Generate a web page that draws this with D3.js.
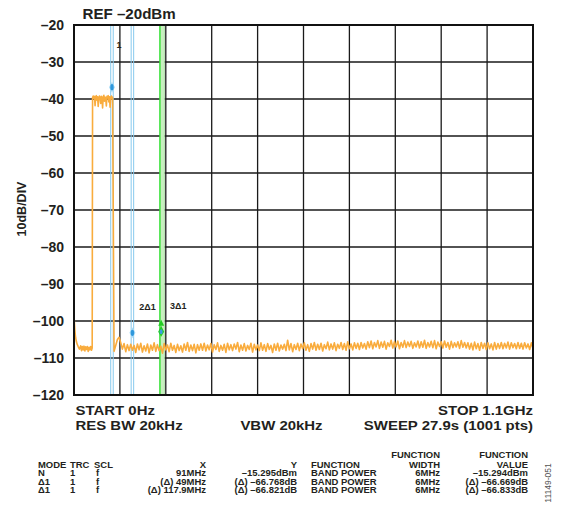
<!DOCTYPE html>
<html>
<head>
<meta charset="utf-8">
<script src="https://cdn.jsdelivr.net/npm/d3@7"></script>
<style>
  body { margin: 0; background: #fff; }
  text { font-family: "Liberation Sans", Arial, sans-serif; font-weight: bold; fill: #231f20; }
</style>
</head>
<body>
<div class="chart"></div>
<script>
// y axis (dBm)
const yTicks = [-20, -30, -40, -50, -60, -70, -80, -90, -100, -110, -120];
// x axis divisions (MHz), 0 to 1.1GHz
const xDivs = [0, 110, 220, 330, 440, 550, 660, 770, 880, 990, 1100];

// trace: low end before the carrier
const startFreq = [0, 1, 2, 3, 4, 6, 8, 10, 13, 16, 18, 20, 22, 24, 26, 28, 30, 32, 34, 36, 38, 40, 42, 43.6];
const startLevel = [-98.5, -100.5, -102.3, -103.6, -104.6, -105.7, -106.4, -106.9, -107.6, -106.7, -108.0, -106.9, -107.8, -106.8, -108.1, -107.0, -107.7, -106.9, -108.2, -107.1, -107.8, -106.9, -107.9, -107.3];

// trace: carrier plateau
const plateauFreq = [44.5, 46, 47.5, 49, 50.5, 52, 53.5, 55, 56.5, 58, 59.5, 61, 62.5, 64, 65.5, 67, 68.5, 70, 71.5, 73, 74.5, 76, 77.5, 79, 80.5, 82, 83.5, 85, 86.5, 88, 89.5, 91, 92.5];
const plateauLevel = [-39.6, -39.2, -39.8, -39.3, -41.8, -39.5, -39.1, -40.3, -39.4, -42.0, -39.6, -39.2, -39.8, -41.2, -39.3, -39.7, -42.4, -39.4, -39.0, -40.6, -39.5, -39.8, -41.9, -39.3, -39.6, -39.1, -40.8, -39.4, -42.2, -39.7, -39.2, -39.9, -39.5];

// trace: noise floor, one point every 4MHz from 96MHz
const noiseStartMHz = 96, noiseStepMHz = 4;
const noiseLevel = [
  -108.2, -106.6, -105.0, -104.4, -105.9, -107.6, -106.1, -108.3, -106.4, -108.0,
  -106.3, -107.9, -106.6, -108.5, -106.2, -107.8, -106.0, -108.4, -106.7, -108.1,
  -106.2, -108.6, -106.5, -107.9, -105.9, -108.2, -106.4, -108.0, -106.8, -108.7,
  -106.1, -107.8, -106.5, -108.3, -106.0, -107.9, -106.6, -108.5, -106.3, -108.0,
  -106.7, -108.4, -106.2, -107.9, -105.8, -108.2, -106.5, -108.0, -106.3, -108.6,
  -106.4, -107.9,
  -106.2, -107.9, -106.0, -108.1, -106.5, -107.8, -106.1, -108.4, -106.4, -107.7,
  -105.9, -108.2, -106.6, -107.9, -106.3, -108.5, -106.0, -107.8, -106.4, -108.0,
  -106.2, -107.6, -105.8, -108.3, -106.5, -107.9, -106.1, -108.1, -106.6, -107.7,
  -106.0, -108.4, -106.3, -107.8, -106.5, -108.0, -105.9, -107.9, -106.4, -108.2,
  -106.1, -107.7, -106.6, -108.5, -106.2, -107.9, -106.0, -108.1, -106.5, -107.6,
  -106.3, -108.0, -105.2, -107.8, -106.1, -108.3, -106.4, -107.7, -106.0, -108.0,
  -106.2, -107.5, -105.9, -107.9, -106.4, -108.2, -106.1, -107.6, -105.8, -107.9,
  -106.3, -107.7, -106.0, -108.1, -106.4, -107.5, -105.7, -107.8, -106.2, -107.6,
  -105.9, -108.0, -106.3, -107.4, -105.8, -107.7, -106.1, -107.9, -105.6, -107.5,
  -106.2, -107.8, -105.9, -107.4, -106.0, -107.7, -105.8, -107.3, -106.1, -107.6,
  -105.6, -107.2, -105.4, -107.5, -105.8, -107.0, -105.3, -107.4, -105.7, -107.1,
  -105.5, -107.6, -105.9, -106.9, -105.2, -107.3, -105.6, -107.0, -105.4, -107.5,
  -105.8, -107.1, -105.3, -107.2, -105.7, -106.9, -105.5, -107.4, -105.9, -107.0,
  -105.4, -107.3, -105.6, -107.1, -105.2, -107.4, -105.8, -107.0, -105.5, -107.2,
  -105.3, -107.5, -105.7, -106.9, -105.6, -107.3, -105.4, -107.1, -105.8, -107.6,
  -105.5, -107.2, -105.9, -107.0, -105.6, -107.4, -105.3, -107.1, -105.8, -107.3,
  -105.9, -107.6, -106.0, -107.8, -105.7, -107.5, -106.1, -107.9, -105.8, -107.4,
  -106.0, -107.7, -105.9, -107.5, -106.2, -107.8, -105.8, -107.6, -106.1, -107.4,
  -105.8, -107.5, -106.0, -107.3, -105.7, -107.6, -105.9, -107.2, -106.1, -107.5,
  -105.8, -107.4, -106.0, -107.6, -105.9, -107.3, -106.2, -107.7, -105.9, -107.5
];

// markers
const markerLabels = ["1", "2\u03941", "3\u03941"];
const markerFreq = [91, 140, 208.9];
const markerLevel = [-36.8, -103.2, -102.9];
const bandWidthMHz = 6;

// texts
const refText = "REF \u201320dBm";
const yTitle = "10dB/DIV";
const footLeft = ["START 0Hz", "RES BW 20kHz"];
const footMid = "VBW 20kHz";
const footRight = ["STOP 1.1GHz", "SWEEP 27.9s (1001 pts)"];

// marker table
const tableHead1 = ["", "", "", "", "", "", "FUNCTION", "FUNCTION"];
const tableHead2 = ["MODE", "TRC", "SCL", "X", "Y", "FUNCTION", "WIDTH", "VALUE"];
const tableRows = [
  ["N", "1", "f", "91MHz", "\u201315.295dBm", "BAND POWER", "6MHz", "\u201315.294dBm"],
  ["\u03941", "1", "f", "(\u0394) 49MHz", "(\u0394) \u201366.768dB", "BAND POWER", "6MHz", "(\u0394) \u201366.669dB"],
  ["\u03941", "1", "f", "(\u0394) 117.9MHz", "(\u0394) \u201366.821dB", "BAND POWER", "6MHz", "(\u0394) \u201366.833dB"]
];
const figId = "11149-051";

// ---- layout
const W = 566, H = 508;
const plot = { left: 74, top: 25, right: 533, bottom: 395 };

const svg = d3.select("div.chart").append("svg")
  .attr("width", W).attr("height", H);

const xScale = d3.scaleLinear().domain([0, 1100]).range([plot.left, plot.right]);
const yScale = d3.scaleLinear().domain([-120, -20]).range([plot.bottom, plot.top]);

// text slightly widened like the original artwork
function addText(parent, x, y, str, size, anchor, sx) {
  return parent.append("text")
    .attr("transform", `translate(${x},${y}) scale(${sx || 1},1)`)
    .attr("text-anchor", anchor || "start")
    .style("font-size", size + "px")
    .text(str);
}

// grid
svg.append("g").selectAll("line")
  .data(xDivs.slice(1, -1))
  .enter().append("line")
  .attr("x1", d => xScale(d)).attr("x2", d => xScale(d))
  .attr("y1", plot.top).attr("y2", plot.bottom)
  .attr("stroke", "#1a1a1a").attr("stroke-width", 1.3);

svg.append("g").selectAll("line")
  .data(yTicks.slice(1, -1))
  .enter().append("line")
  .attr("x1", plot.left).attr("x2", plot.right)
  .attr("y1", d => yScale(d)).attr("y2", d => yScale(d))
  .attr("stroke", "#1a1a1a").attr("stroke-width", 1.3);

// band power lines for each marker
const bands = svg.append("g");
markerFreq.forEach((f, i) => {
  const x0 = xScale(f - bandWidthMHz / 2), x1 = xScale(f + bandWidthMHz / 2);
  if (i === 2) {
    bands.append("rect").attr("x", x0).attr("y", plot.top)
      .attr("width", x1 - x0 + 2).attr("height", plot.bottom - plot.top)
      .attr("fill", "#c9efc0");
    bands.append("line").attr("x1", x0).attr("x2", x0)
      .attr("y1", plot.top).attr("y2", plot.bottom)
      .attr("stroke", "#2ee02e").attr("stroke-width", 1.4);
    bands.append("line").attr("x1", x1 + 2).attr("x2", x1 + 2)
      .attr("y1", plot.top).attr("y2", plot.bottom)
      .attr("stroke", "#a8d8a2").attr("stroke-width", 0.8);
  } else {
    [x0, x1].forEach(x => {
      bands.append("line").attr("x1", x).attr("x2", x)
        .attr("y1", plot.top).attr("y2", plot.bottom)
        .attr("stroke", "#86c9ee").attr("stroke-width", 1);
    });
  }
});

// trace
const trace = [];
startFreq.forEach((f, i) => trace.push([f, startLevel[i]]));
plateauFreq.forEach((f, i) => trace.push([f, plateauLevel[i]]));
noiseLevel.forEach((v, i) => trace.push([noiseStartMHz + noiseStepMHz * i, v]));

svg.append("clipPath").attr("id", "clip")
  .append("rect").attr("x", plot.left).attr("y", plot.top)
  .attr("width", plot.right - plot.left).attr("height", plot.bottom - plot.top);

svg.append("path")
  .datum(trace)
  .attr("clip-path", "url(#clip)")
  .attr("fill", "none")
  .attr("stroke", "#f9ac3d")
  .attr("stroke-width", 1.6)
  .attr("stroke-linejoin", "round")
  .attr("d", d3.line().x(d => xScale(d[0])).y(d => yScale(d[1])));

// frame
svg.append("rect")
  .attr("x", plot.left).attr("y", plot.top)
  .attr("width", plot.right - plot.left).attr("height", plot.bottom - plot.top)
  .attr("fill", "none").attr("stroke", "#111").attr("stroke-width", 2);

// markers
const labelOffset = [[7, -39], [15, -23], [17, -23]];
markerFreq.forEach((f, i) => {
  const x = xScale(f), y = yScale(markerLevel[i]);
  if (i === 2) {
    svg.append("path")
      .attr("d", `M${x},${y - 12} L${x + 3},${y - 6} L${x - 3},${y - 6} Z`)
      .attr("fill", "#22cc22");
    svg.append("path")
      .attr("d", `M${x},${y - 6} L${x + 3},${y} L${x},${y + 5} L${x - 3},${y} Z`)
      .attr("fill", "#22cc22");
    svg.append("ellipse").attr("cx", x).attr("cy", y).attr("rx", 1.5).attr("ry", 2.5)
      .attr("fill", "#3a9ee0");
  } else {
    svg.append("path")
      .attr("d", `M${x},${y - 5.5} L${x + 3},${y} L${x},${y + 5.5} L${x - 3},${y} Z`)
      .attr("fill", "#a9dcf7");
    svg.append("ellipse").attr("cx", x).attr("cy", y).attr("rx", 1.7).attr("ry", 3.2)
      .attr("fill", "#2f98dc");
  }
  addText(svg, x + labelOffset[i][0], y + labelOffset[i][1], markerLabels[i], 9, "middle");
});

// y tick labels
yTicks.forEach(d => {
  addText(svg, 64, yScale(d) + 5, "\u2013" + Math.abs(d), 14, "end");
});

// titles
addText(svg, 82.5, 19, refText, 14, "start", 1.08);
svg.append("text")
  .attr("transform", "translate(26,209) rotate(-90)")
  .attr("text-anchor", "middle")
  .style("font-size", "12.5px")
  .text(yTitle);

// footer
footLeft.forEach((t, i) => addText(svg, 75.5, 415 + i * 15, t, 13, "start", 1.15));
addText(svg, 281.5, 430, footMid, 13, "middle", 1.15);
footRight.forEach((t, i) => addText(svg, 533, 415 + i * 15, t, 13, "end", 1.15));

// table
const colX = [38, 70, 94, 206, 297, 311, 440, 528];
const dataColX = [38, 70, 96, 206, 297, 311, 440, 528];
const colAnchor = ["start", "start", "start", "end", "end", "start", "end", "end"];
const rowY = [458, 467.5, 476, 484.5, 493];
const table = svg.append("g");
[tableHead1, tableHead2].forEach((row, r) => {
  row.forEach((t, c) => {
    if (t) addText(table, colX[c], rowY[r], t, 8.6, colAnchor[c], 1.1);
  });
});
tableRows.forEach((row, r) => {
  row.forEach((t, c) => addText(table, dataColX[c], rowY[r + 2], t, 8.6, colAnchor[c], 1.1));
});

svg.append("text")
  .attr("transform", "translate(551,483) rotate(-90)")
  .attr("text-anchor", "middle")
  .style("font-size", "8.5px")
  .style("font-weight", "normal")
  .style("fill", "#555")
  .text(figId);
</script>
</body>
</html>
